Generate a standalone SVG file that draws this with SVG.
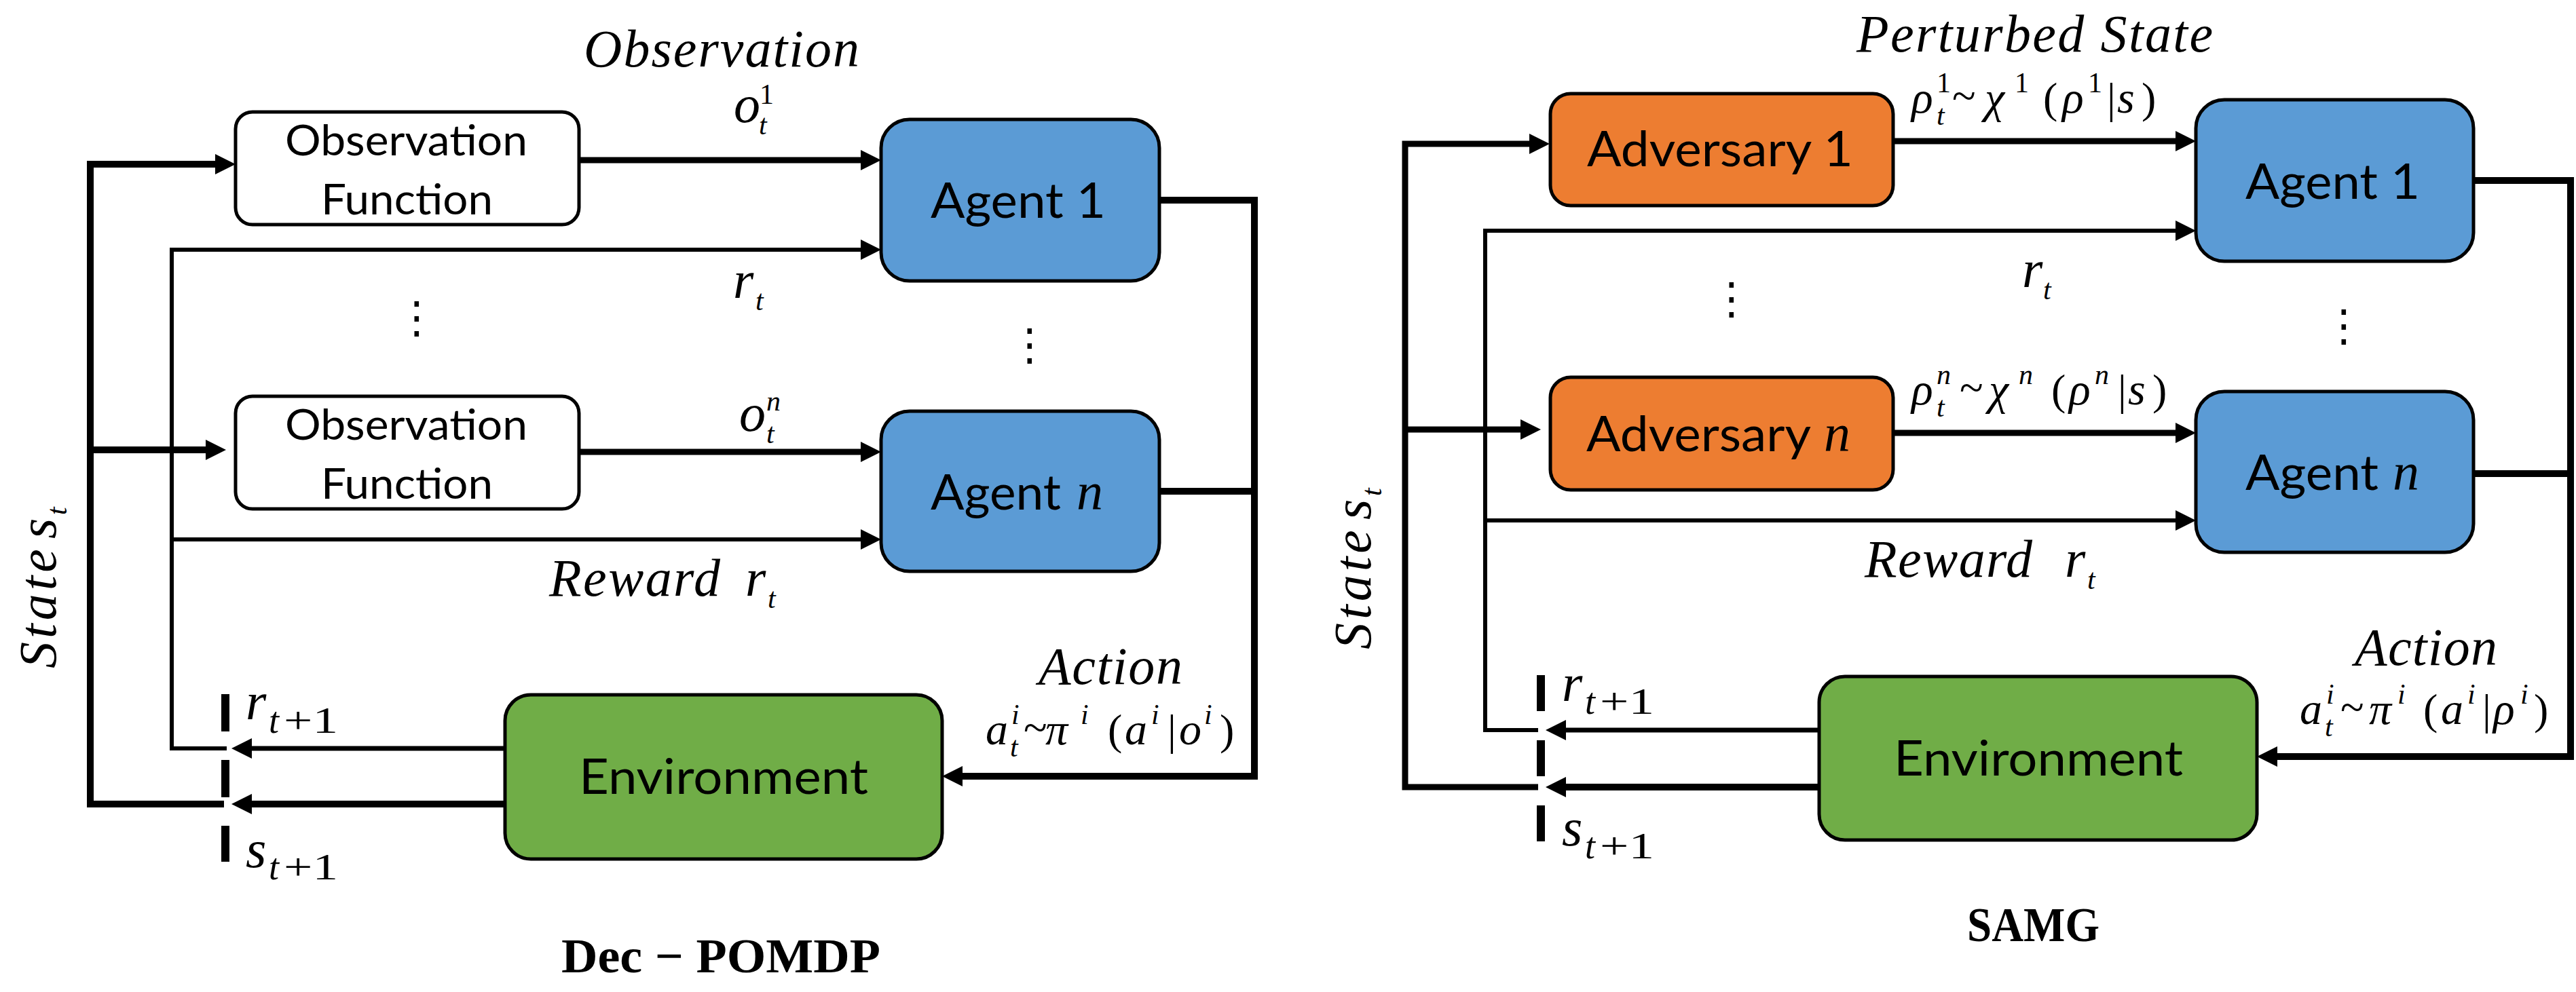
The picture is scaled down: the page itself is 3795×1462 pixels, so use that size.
<svg xmlns="http://www.w3.org/2000/svg" width="3795" height="1462" viewBox="0 0 3795 1462">
<style>
.bx{stroke:#000;stroke-width:5}
.obs{fill:#fff}
.ag{fill:#5B9BD5}
.adv{fill:#ED7D31}
.env{fill:#70AD47}
.t{font-family:Lato,'Liberation Sans',sans-serif;font-size:71px;fill:#000}
.ot{font-size:61px}
.m{font-family:'Liberation Serif',serif;font-style:italic;font-size:78px;fill:#000}
.mu{font-family:'Liberation Serif',serif;font-size:64px;fill:#000}
.ms{font-size:66px}
.sc{font-size:42px}
.sc2{font-size:54px}
.bold{font-family:'Liberation Serif',serif;font-weight:bold;font-size:72px;fill:#000}
.dots{font-family:'DejaVu Sans',sans-serif;font-size:64px;fill:#000}
.ln{fill:none;stroke:#000;stroke-linejoin:miter}
.w10{stroke-width:10}
.w9{stroke-width:9}
.w7{stroke-width:7}
.w6{stroke-width:6}
.bar{stroke:#000;stroke-width:12}
</style>
<defs>
<marker id="ah" markerUnits="userSpaceOnUse" markerWidth="30" markerHeight="30" viewBox="0 0 30 30" refX="2" refY="15" orient="auto"><path d="M0,0 L30,15 L0,30 z" fill="#000"/></marker>
</defs>

<!-- ================= LEFT: Dec-POMDP ================= -->
<g id="connectors-left">
<path class="ln w10" d="M330 1185 H133 V242 H319" marker-end="url(#ah)"/>
<path class="ln w10" d="M133 663 H305" marker-end="url(#ah)"/>
<path class="ln w9" d="M853 236 H1270" marker-end="url(#ah)"/>
<path class="ln w9" d="M853 666 H1270" marker-end="url(#ah)"/>
<path class="ln w6" d="M334 1103 H253 V368 H1270" marker-end="url(#ah)"/>
<path class="ln w6" d="M253 795 H1270" marker-end="url(#ah)"/>
<path class="ln w10" d="M1708 295 H1848 V1144 H1416" marker-end="url(#ah)"/>
<path class="ln w10" d="M1708 724 H1848"/>
<path class="ln w7" d="M744 1103 H369" marker-end="url(#ah)"/>
<path class="ln w10" d="M744 1185 H369" marker-end="url(#ah)"/>
<line class="bar" x1="332" y1="1023" x2="332" y2="1270" stroke-dasharray="55 42"/>
</g>

<g id="obs1">
<rect class="bx obs" x="347" y="165" width="506" height="166" rx="25"/>
<text class="t ot" x="420" y="229" textLength="357" lengthAdjust="spacingAndGlyphs">Observation</text>
<text class="t ot" x="473" y="316" textLength="253" lengthAdjust="spacingAndGlyphs">Function</text>
</g>
<g id="obsn">
<rect class="bx obs" x="347" y="584" width="506" height="166" rx="25"/>
<text class="t ot" x="420" y="648" textLength="357" lengthAdjust="spacingAndGlyphs">Observation</text>
<text class="t ot" x="473" y="735" textLength="253" lengthAdjust="spacingAndGlyphs">Function</text>
</g>
<g id="agent1-left">
<rect class="bx ag" x="1298" y="176" width="410" height="238" rx="42"/>
<text class="t" x="1371" y="321" textLength="258" lengthAdjust="spacingAndGlyphs">Agent 1</text>
</g>
<g id="agentn-left">
<rect class="bx ag" x="1298" y="606" width="410" height="236" rx="42"/>
<text class="t" x="1371" y="751" textLength="192" lengthAdjust="spacingAndGlyphs">Agent</text>
<text class="m" x="1586" y="751" font-size="80">n</text>
</g>
<g id="env-left">
<rect class="bx env" x="744" y="1024" width="644" height="242" rx="38"/>
<text class="t" x="853" y="1170" textLength="426" lengthAdjust="spacingAndGlyphs">Environment</text>
</g>

<g id="labels-left">
<text class="m" x="860" y="98" textLength="406" lengthAdjust="spacing">Observation</text>
<text class="m" x="1081" y="180" font-size="72">o</text><text class="mu sc" x="1119" y="153">1</text><text class="m sc" x="1118" y="198">t</text>
<text class="m" x="1080" y="439">r</text><text class="m sc" x="1113" y="457">t</text>
<text class="m" x="1089" y="635">o</text><text class="m sc" x="1129" y="605">n</text><text class="m sc" x="1129" y="653">t</text>
<text class="m" x="809" y="878" textLength="252" lengthAdjust="spacing">Reward</text>
<text class="m" x="1098" y="878">r</text><text class="m sc" x="1131" y="896">t</text>
<text class="dots" x="582" y="490">⋮</text>
<text class="dots" x="1485" y="530">⋮</text>
<text class="m" x="1530" y="1008" textLength="212" lengthAdjust="spacing">Action</text>
<g id="act-left">
<text class="m ms" x="1452" y="1097">a</text><text class="m sc" x="1490" y="1067">i</text><text class="m sc" x="1488" y="1115">t</text>
<text class="mu" x="1508" y="1094">~</text>
<text class="m ms" x="1540" y="1097">π</text><text class="m sc" x="1592" y="1067">i</text>
<text class="mu" x="1632" y="1097">(</text>
<text class="m ms" x="1657" y="1097">a</text><text class="m sc" x="1696" y="1067">i</text>
<text class="mu" x="1720" y="1097">|</text>
<text class="m ms" x="1737" y="1097">o</text><text class="m sc" x="1774" y="1067">i</text>
<text class="mu" x="1797" y="1097">)</text>
</g>
<text class="m" x="362" y="1060">r</text><text class="m sc2" x="396" y="1080">t</text><text class="mu sc2" x="418" y="1080" textLength="80" lengthAdjust="spacingAndGlyphs">+1</text>
<text class="m" x="362" y="1278">s</text><text class="m sc2" x="396" y="1296">t</text><text class="mu sc2" x="418" y="1296" textLength="80" lengthAdjust="spacingAndGlyphs">+1</text>
<g transform="translate(82,985) rotate(-90)">
<text class="m" x="0" y="0" textLength="176" lengthAdjust="spacing">State</text>
<text class="m" x="191" y="0">s</text><text class="m sc" x="226" y="16">t</text>
</g>
<text class="bold" x="827" y="1433" textLength="470" lengthAdjust="spacingAndGlyphs">Dec − POMDP</text>
</g>

<!-- ================= RIGHT: SAMG ================= -->
<g id="connectors-right">
<path class="ln w9" d="M2266 1160 H2070 V212 H2255" marker-end="url(#ah)"/>
<path class="ln w9" d="M2070 633 H2242" marker-end="url(#ah)"/>
<path class="ln w9" d="M2789 208 H3207" marker-end="url(#ah)"/>
<path class="ln w9" d="M2789 638 H3207" marker-end="url(#ah)"/>
<path class="ln w6" d="M2266 1076 H2188 V340 H3207" marker-end="url(#ah)"/>
<path class="ln w6" d="M2188 767 H3207" marker-end="url(#ah)"/>
<path class="ln w10" d="M3644 266 H3787 V1115 H3353" marker-end="url(#ah)"/>
<path class="ln w10" d="M3644 698 H3787"/>
<path class="ln w7" d="M2680 1076 H2305" marker-end="url(#ah)"/>
<path class="ln w10" d="M2680 1160 H2305" marker-end="url(#ah)"/>
<line class="bar" x1="2270" y1="995" x2="2270" y2="1242" stroke-dasharray="53 43"/>
</g>

<g id="adv1">
<rect class="bx adv" x="2284" y="138" width="505" height="165" rx="30"/>
<text class="t" x="2338" y="245" textLength="392" lengthAdjust="spacingAndGlyphs">Adversary 1</text>
</g>
<g id="advn">
<rect class="bx adv" x="2284" y="556" width="505" height="166" rx="30"/>
<text class="t" x="2337" y="665" textLength="331" lengthAdjust="spacingAndGlyphs">Adversary</text>
<text class="m" x="2687" y="665" font-size="80">n</text>
</g>
<g id="agent1-right">
<rect class="bx ag" x="3235" y="147" width="409" height="238" rx="42"/>
<text class="t" x="3308" y="293" textLength="257" lengthAdjust="spacingAndGlyphs">Agent 1</text>
</g>
<g id="agentn-right">
<rect class="bx ag" x="3235" y="577" width="409" height="237" rx="42"/>
<text class="t" x="3308" y="722" textLength="196" lengthAdjust="spacingAndGlyphs">Agent</text>
<text class="m" x="3525" y="722" font-size="80">n</text>
</g>
<g id="env-right">
<rect class="bx env" x="2680" y="997" width="645" height="241" rx="38"/>
<text class="t" x="2790" y="1143" textLength="426" lengthAdjust="spacingAndGlyphs">Environment</text>
</g>

<g id="labels-right">
<text class="m" x="2735" y="76" textLength="525" lengthAdjust="spacing">Perturbed State</text>
<g id="rho1">
<text class="m ms" x="2816" y="166">ρ</text><text class="mu sc" x="2853" y="136">1</text><text class="m sc" x="2853" y="184">t</text>
<text class="mu" x="2876" y="163">~</text>
<text class="m ms" x="2924" y="166">χ</text><text class="mu sc" x="2968" y="136">1</text>
<text class="mu" x="3010" y="166">(</text>
<text class="m ms" x="3038" y="166">ρ</text><text class="mu sc" x="3076" y="136">1</text>
<text class="mu" x="3104" y="166">|</text>
<text class="m ms" x="3119" y="166">s</text>
<text class="mu" x="3155" y="166">)</text>
</g>
<text class="m" x="2979" y="423">r</text><text class="m sc" x="3010" y="441">t</text>
<g id="rhon">
<text class="m ms" x="2816" y="596">ρ</text><text class="m sc" x="2853" y="566">n</text><text class="m sc" x="2853" y="614">t</text>
<text class="mu" x="2887" y="593">~</text>
<text class="m ms" x="2930" y="596">χ</text><text class="m sc" x="2974" y="566">n</text>
<text class="mu" x="3022" y="596">(</text>
<text class="m ms" x="3048" y="596">ρ</text><text class="m sc" x="3086" y="566">n</text>
<text class="mu" x="3120" y="596">|</text>
<text class="m ms" x="3135" y="596">s</text>
<text class="mu" x="3171" y="596">)</text>
</g>
<text class="m" x="2747" y="850" textLength="247" lengthAdjust="spacing">Reward</text>
<text class="m" x="3042" y="850">r</text><text class="m sc" x="3075" y="868">t</text>
<text class="dots" x="2519" y="462">⋮</text>
<text class="dots" x="3421" y="502">⋮</text>
<text class="m" x="3469" y="980" textLength="210" lengthAdjust="spacing">Action</text>
<g id="act-right">
<text class="m ms" x="3388" y="1067">a</text><text class="m sc" x="3427" y="1037">i</text><text class="m sc" x="3425" y="1085">t</text>
<text class="mu" x="3448" y="1064">~</text>
<text class="m ms" x="3490" y="1067">π</text><text class="m sc" x="3532" y="1037">i</text>
<text class="mu" x="3570" y="1067">(</text>
<text class="m ms" x="3596" y="1067">a</text><text class="m sc" x="3635" y="1037">i</text>
<text class="mu" x="3657" y="1067">|</text>
<text class="m ms" x="3673" y="1067">ρ</text><text class="m sc" x="3713" y="1037">i</text>
<text class="mu" x="3733" y="1067">)</text>
</g>
<text class="m" x="2301" y="1033">r</text><text class="m sc2" x="2335" y="1052">t</text><text class="mu sc2" x="2357" y="1052" textLength="80" lengthAdjust="spacingAndGlyphs">+1</text>
<text class="m" x="2301" y="1246">s</text><text class="m sc2" x="2335" y="1265">t</text><text class="mu sc2" x="2357" y="1265" textLength="80" lengthAdjust="spacingAndGlyphs">+1</text>
<g transform="translate(2019,957) rotate(-90)">
<text class="m" x="0" y="0" textLength="176" lengthAdjust="spacing">State</text>
<text class="m" x="191" y="0">s</text><text class="m sc" x="226" y="16">t</text>
</g>
<text class="bold" x="2898" y="1387" textLength="195" lengthAdjust="spacingAndGlyphs">SAMG</text>
</g>
</svg>
